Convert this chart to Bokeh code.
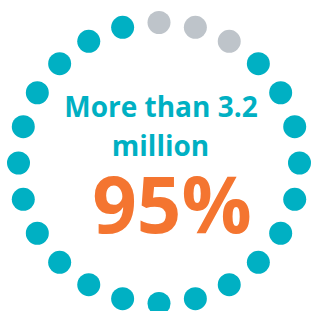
import numpy as np
from bokeh.plotting import figure
from bokeh.models import Range1d, ColumnDataSource
from bokeh.core.properties import value
from bokeh.embed import file_html
from bokeh.resources import INLINE

# data
total_dots = 24
filled_dots = 21
headline = ["More than 3.2", "million"]
big_label = "95%"

teal = "#00B0C3"
gray = "#BEC4CA"
orange = "#F47530"

p = figure(width=311, height=311, output_backend="svg", toolbar_location=None,
           x_range=Range1d(-158.5, 152.5), y_range=Range1d(-148.5, 162.5),
           min_border=0)
p.axis.visible = False
p.grid.visible = False
p.outline_line_color = None
p.background_fill_color = "white"

ring_r = 140.5
idx = np.arange(total_dots)
ang = np.pi / 2 - idx * 2 * np.pi / total_dots
# first (total-filled) dots from the top going clockwise are empty (gray)
colors = [gray if i < total_dots - filled_dots else teal for i in idx]
src = ColumnDataSource(dict(x=ring_r * np.cos(ang), y=ring_r * np.sin(ang), c=colors))
p.scatter("x", "y", source=src, size=23, fill_color="c", line_color=None)

font = value("Open Sans")
p.text(x=[2], y=[57.5], text=[headline[0]], text_align="center", text_baseline="alphabetic",
       text_font=font, text_font_style="bold", text_font_size="28px", text_color=teal)
p.text(x=[1.5], y=[18.5], text=[headline[1]], text_align="center", text_baseline="alphabetic",
       text_font=font, text_font_style="bold", text_font_size="28px", text_color=teal)
p.text(x=[13], y=[-39.5], text=[big_label], text_align="center", text_baseline="alphabetic",
       text_font=font, text_font_style="bold", text_font_size="78px", text_color=orange)

open("out.html", "w").write(file_html(p, INLINE))
